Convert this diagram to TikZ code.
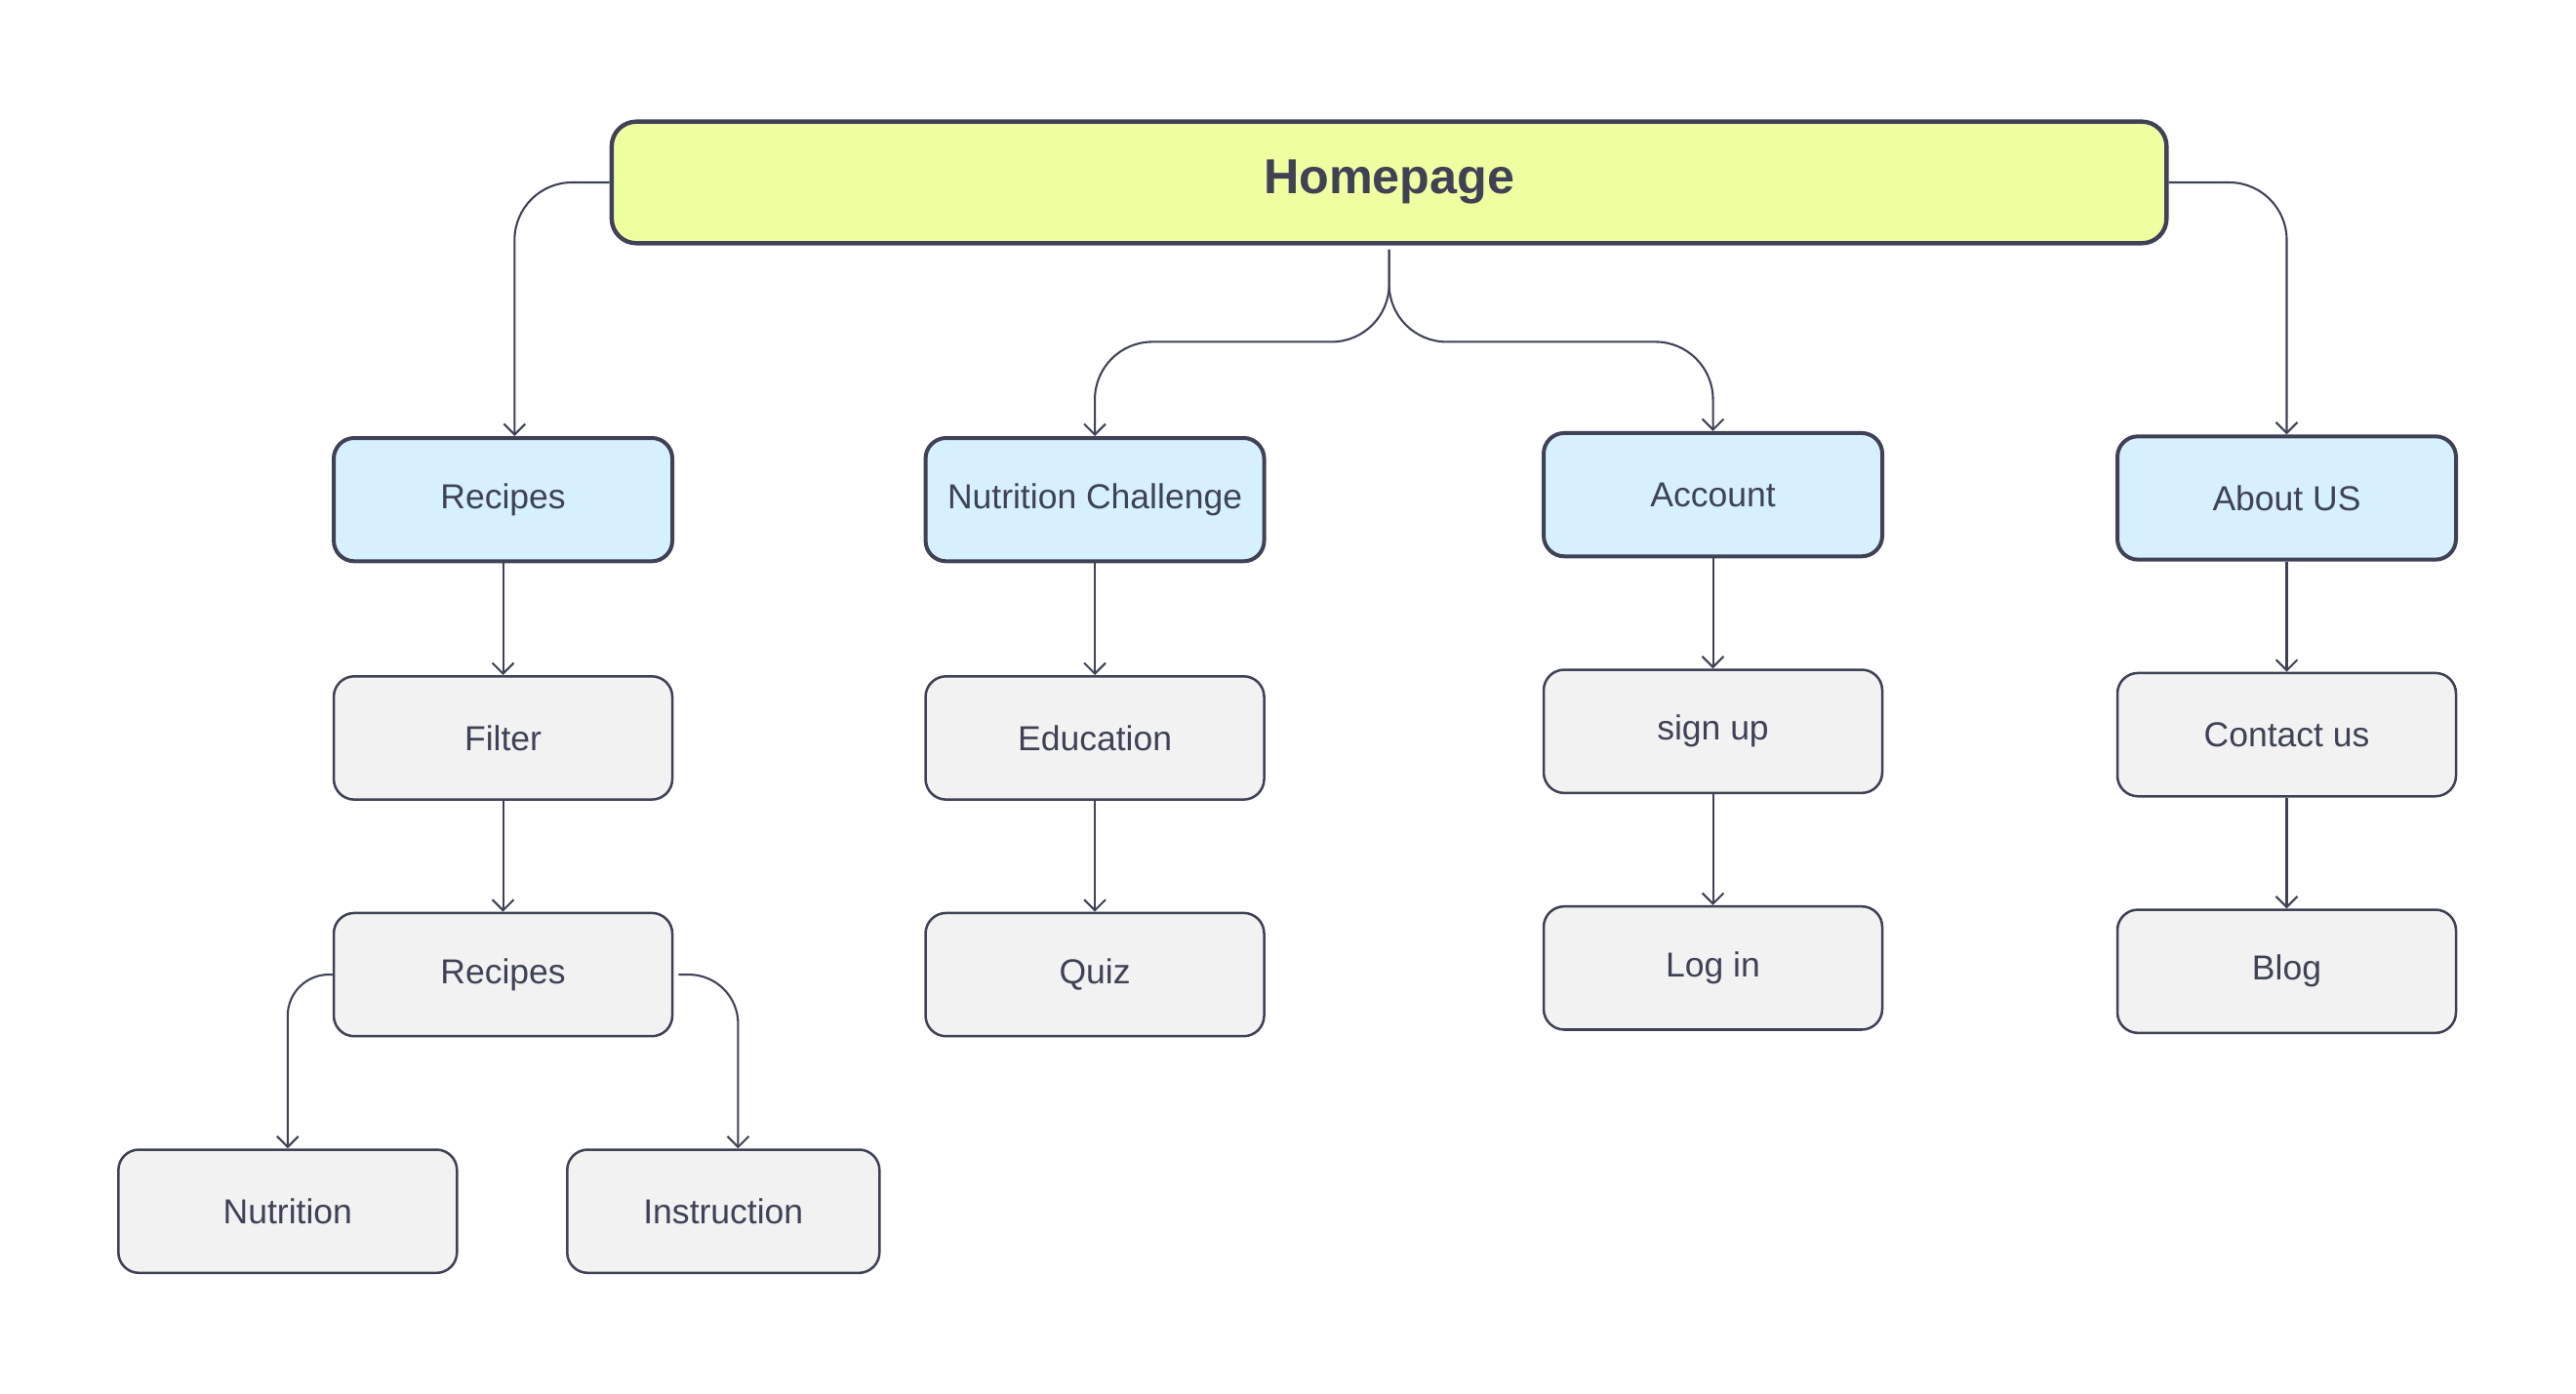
\documentclass[tikz,border=0pt]{standalone}
\usepackage{fontspec}
\setmainfont{Liberation Sans}
\usepackage{tikz}
\usetikzlibrary{arrows.meta,positioning}

\definecolor{inkgray}{HTML}{3F4257}
\definecolor{homefill}{HTML}{F0FFA0}
\definecolor{topfill}{HTML}{D6F1FD}
\definecolor{leaffill}{HTML}{F2F2F2}

\tikzset{
    homebox/.style={draw=inkgray, line width=1.5pt, fill=homefill, rounded corners=0.3cm,
        minimum width=18.92cm, minimum height=1.48cm, text=inkgray, font=\fontsize{17}{20}\selectfont\bfseries},
    topbox/.style={draw=inkgray, line width=1.35pt, fill=topfill, rounded corners=0.25cm,
        minimum width=4.12cm, minimum height=1.5cm, text=inkgray, font=\fontsize{12}{14}\selectfont},
    leafbox/.style={draw=inkgray, line width=0.85pt, fill=leaffill, rounded corners=0.25cm,
        minimum width=4.12cm, minimum height=1.5cm, text=inkgray, font=\fontsize{12}{14}\selectfont},
    conn/.style={draw=inkgray, line width=0.7pt, rounded corners=0.7cm,
        -{Straight Barb[length=1.3mm,width=2.6mm]}}
}

\begin{document}
\begin{tikzpicture}[x=0.02cm, y=-0.02cm]
        \useasboundingbox (0,0) rectangle (1567,848);
        % Top
        \node[homebox] (home) at (845,111) {Homepage};
        % Level 1
        \node[topbox] (rec) at (306,304) {Recipes};
        \node[topbox] (nc) at (666,304) {Nutrition Challenge};
        \node[topbox] (acc) at (1042,301) {Account};
        \node[topbox] (about) at (1391,303) {About US};
        % Level 2
        \node[leafbox] (filter) at (306,449) {Filter};
        \node[leafbox] (edu) at (666,449) {Education};
        \node[leafbox] (signup) at (1042,445) {sign up};
        \node[leafbox] (contact) at (1391,447) {Contact us};
        % Level 3
        \node[leafbox] (rec2) at (306,593) {Recipes};
        \node[leafbox] (quiz) at (666,593) {Quiz};
        \node[leafbox] (login) at (1042,589) {Log in};
        \node[leafbox] (blog) at (1391,591) {Blog};
        % Level 4
        \node[leafbox] (nutr) at (175,737) {Nutrition};
        \node[leafbox, minimum width=3.8cm] (instr) at (440,737) {Instruction};
        % Connectors from the homepage
        \coordinate (split) at (845,208);
        \draw[conn] (home.west) -| ([xshift=0.14cm]rec.north);
        \draw[conn] (home.east) -| (about.north);
        \draw[conn] ([yshift=-0.05cm]home.south) -- (split) -| (nc.north);
        \draw[conn] ([yshift=-0.05cm]home.south) -- (split) -| (acc.north);
        % Columns
        \draw[conn] (rec.south) -- (filter.north);
        \draw[conn] (filter.south) -- (rec2.north);
        \draw[conn] (nc.south) -- (edu.north);
        \draw[conn] (edu.south) -- (quiz.north);
        \draw[conn] (acc.south) -- (signup.north);
        \draw[conn] (signup.south) -- (login.north);
        \draw[conn] (about.south) -- (contact.north);
        \draw[conn] (contact.south) -- (blog.north);
        % Recipes split
        \draw[conn, rounded corners=0.5cm] (rec2.west) -| (nutr.north);
        \draw[conn, rounded corners=0.6cm] ([xshift=0.06cm]rec2.east) -| ([xshift=0.18cm]instr.north);
    \end{tikzpicture}
\end{document}
